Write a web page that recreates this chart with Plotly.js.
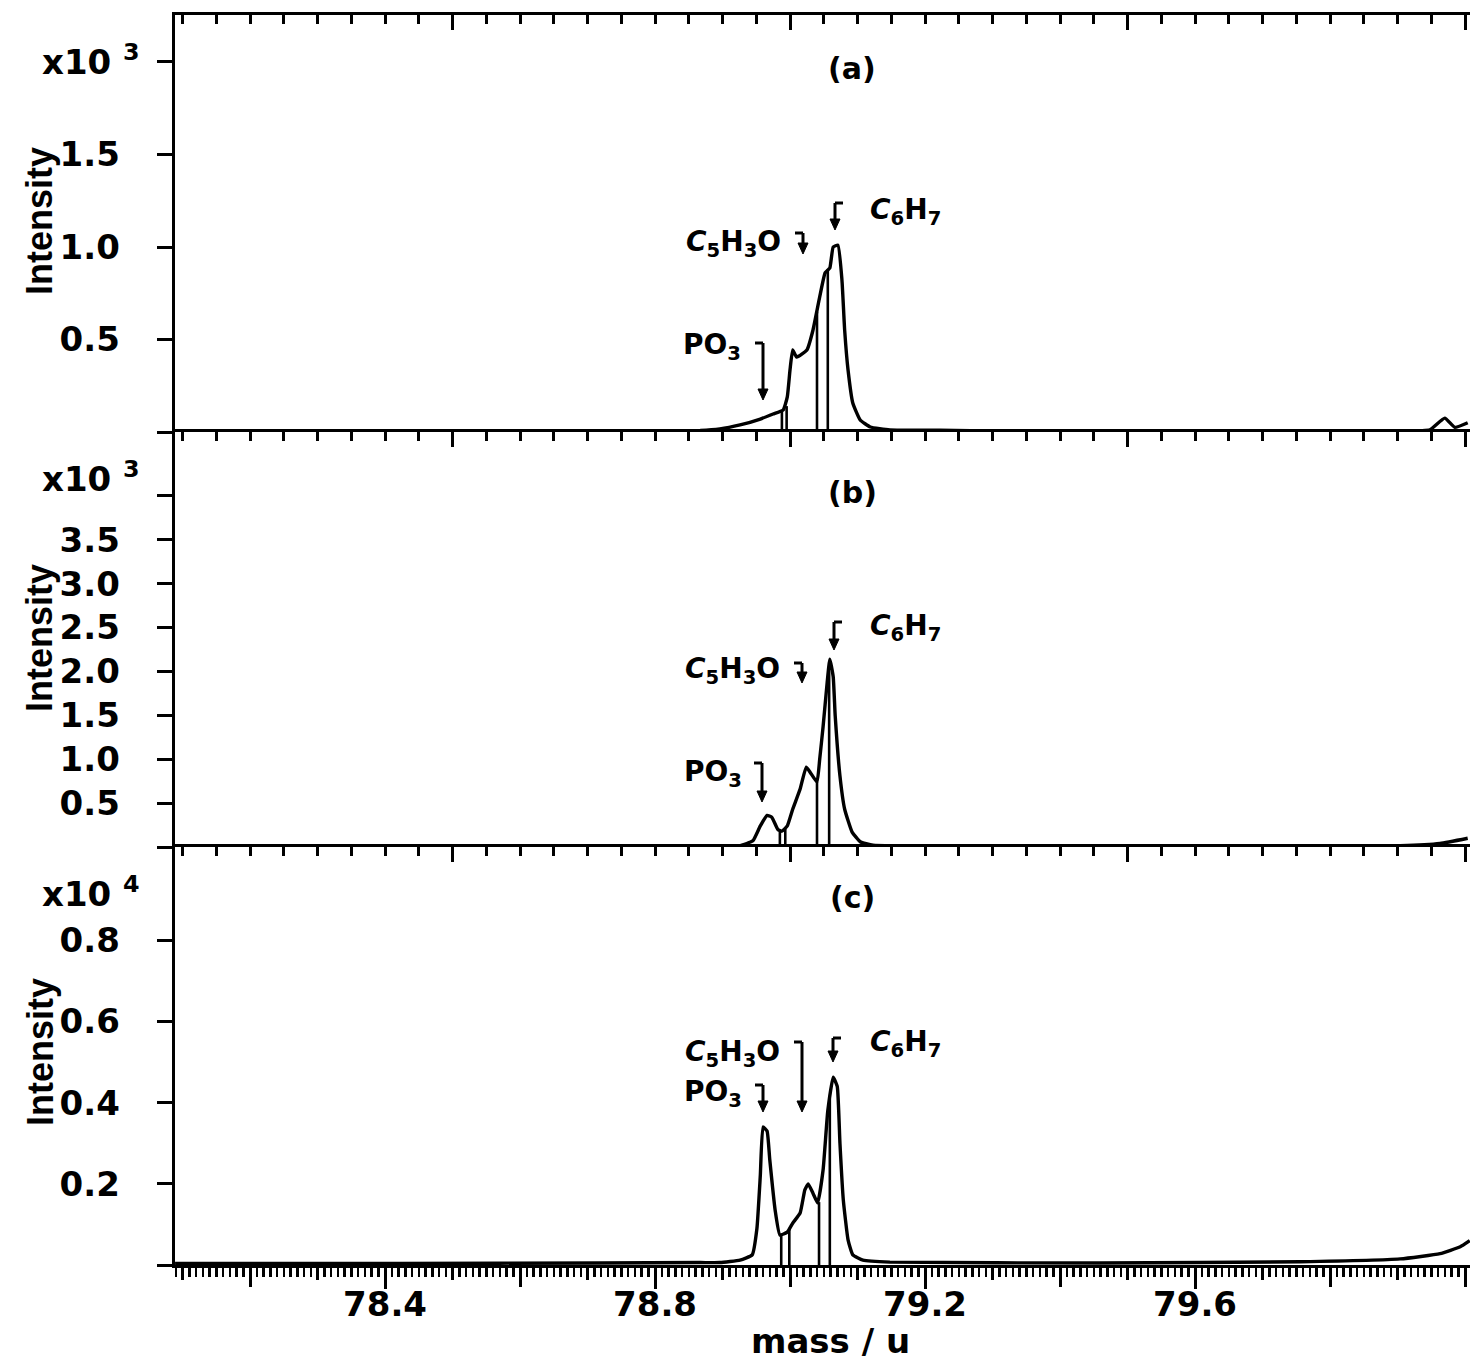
<!DOCTYPE html>
<html><head><meta charset="utf-8">
<script src="https://cdn.plot.ly/plotly-3.0.1.min.js"></script>
<style>body{margin:0;background:#fff}#chart{width:1476px;height:1361px}</style>
</head><body><div id="chart"></div>
<script>
// ---------- data ----------
// panel (a): intensity in units of 10^3
const massA = [78.089,78.274,78.496,78.719,78.867,78.896,78.926,78.956,78.975,78.990,78.996,79.000,79.004,79.010,79.025,79.034,79.044,79.052,79.059,79.064,79.071,79.077,79.081,79.086,79.093,79.104,79.119,79.148,79.222,79.311,79.607,79.904,79.948,79.970,79.985,80.004];
const intA  = [0.003,0.004,0.003,0.005,0.008,0.016,0.038,0.070,0.097,0.120,0.190,0.335,0.443,0.405,0.443,0.550,0.730,0.860,0.886,1.000,1.010,0.820,0.550,0.335,0.157,0.065,0.027,0.011,0.010,0.004,0.004,0.006,0.012,0.075,0.025,0.050];
// panel (b): intensity in units of 10^3
const massB = [78.089,78.422,78.719,78.867,78.896,78.926,78.945,78.956,78.966,78.973,78.982,78.988,78.996,79.004,79.015,79.024,79.030,79.040,79.044,79.049,79.055,79.059,79.064,79.067,79.074,79.081,79.092,79.104,79.123,79.237,79.607,79.904,79.963,80.004];
const intB  = [0.005,0.005,0.008,0.008,0.010,0.015,0.070,0.240,0.360,0.340,0.200,0.180,0.240,0.430,0.660,0.910,0.850,0.740,1.000,1.370,1.870,2.140,1.940,1.490,0.810,0.430,0.170,0.060,0.020,0.008,0.010,0.015,0.040,0.100];
// panel (c): intensity in units of 10^4
const massC = [78.089,78.422,78.719,78.867,78.896,78.926,78.944,78.951,78.956,78.960,78.966,78.970,78.978,78.985,78.996,79.004,79.015,79.022,79.027,79.034,79.041,79.049,79.056,79.064,79.070,79.074,79.079,79.086,79.093,79.108,79.148,79.459,79.756,79.904,79.963,79.993,80.007];
const intC  = [0.004,0.004,0.005,0.006,0.006,0.012,0.025,0.090,0.220,0.340,0.330,0.260,0.135,0.074,0.081,0.103,0.128,0.185,0.200,0.177,0.153,0.234,0.380,0.463,0.440,0.300,0.160,0.062,0.025,0.012,0.007,0.005,0.008,0.015,0.028,0.045,0.060];
// vertical drop lines (mass, height)
const dropMassA = [78.988,78.995,79.040,79.056];
const dropTopA  = [0.11,0.14,0.65,0.88];
const dropMassB = [78.985,78.993,79.040,79.058];
const dropTopB  = [0.19,0.21,0.74,2.05];
const dropMassC = [78.987,78.999,79.043,79.059];
const dropTopC  = [0.075,0.088,0.155,0.41];
// ticks
const xLabelVals = [78.4,78.8,79.2,79.6];
const xLabelText = ['78.4','78.8','79.2','79.6'];
const yTicksA = [0.5,1.0,1.5];
const yTextA  = ['0.5','1.0','1.5'];
const yExtraA = [0,2.0];
const yTicksB = [0.5,1.0,1.5,2.0,2.5,3.0,3.5];
const yTextB  = ['0.5','1.0','1.5','2.0','2.5','3.0','3.5'];
const yExtraB = [0,4.0];
const yTicksC = [0.2,0.4,0.6,0.8];
const yTextC  = ['0.2','0.4','0.6','0.8'];
const yExtraC = [0];
const labelsFormula = {po3:'<b>PO<sub>3</sub></b>', c5:'<b><i>C</i><sub>5</sub>H<sub>3</sub>O</b>', c6:'<b><i>C</i><sub>6</sub>H<sub>7</sub></b>'};

// ---------- geometry ----------
const W=1476,H=1361,L=175,R=6,T=15,B=96;
const PW=W-L-R, PH=H-T-B;
const px = x => (x-L)/PW;
const py = y => (H-B-y)/PH;
const XR = [78.4-(385-L)/675, 78.4+(W-R-385)/675];

function drops(m,h){const xs=[],ys=[];for(let i=0;i<m.length;i++){xs.push(m[i],m[i],null);ys.push(0,h[i],null);}return {xs,ys};}
const dA=drops(dropMassA,dropTopA), dB=drops(dropMassB,dropTopB), dC=drops(dropMassC,dropTopC);
const lineStyle={color:'#000',width:3.4,shape:'spline',smoothing:0.4};
const dropStyle={color:'#000',width:2.6};
const traces=[
 {x:massA,y:intA,xaxis:'x3',yaxis:'y',mode:'lines',line:lineStyle,hoverinfo:'skip'},
 {x:dA.xs,y:dA.ys,xaxis:'x3',yaxis:'y',mode:'lines',line:dropStyle,hoverinfo:'skip'},
 {x:massB,y:intB,xaxis:'x2',yaxis:'y2',mode:'lines',line:lineStyle,hoverinfo:'skip'},
 {x:dB.xs,y:dB.ys,xaxis:'x2',yaxis:'y2',mode:'lines',line:dropStyle,hoverinfo:'skip'},
 {x:massC,y:intC,xaxis:'x',yaxis:'y3',mode:'lines',line:lineStyle,hoverinfo:'skip'},
 {x:dC.xs,y:dC.ys,xaxis:'x',yaxis:'y3',mode:'lines',line:dropStyle,hoverinfo:'skip'},
 {x:[79.0],y:[-1],xaxis:'x4',yaxis:'y3',mode:'markers',marker:{opacity:0},hoverinfo:'skip'},
 {x:[79.0],y:[-1],xaxis:'x5',yaxis:'y3',mode:'markers',marker:{opacity:0},hoverinfo:'skip'}
];

const tfont={family:'DejaVu Sans',size:34,color:'#000',weight:'bold'};
function topAxis(anchor,extra){
  return Object.assign({range:XR,anchor:anchor,side:'top',showline:true,linewidth:3.4,linecolor:'#000',
    ticks:'inside',tickmode:'linear',tick0:78,dtick:0.5,ticklen:15,tickwidth:3,tickcolor:'#000',
    minor:{tickmode:'linear',tick0:78,dtick:0.05,ticklen:9,tickwidth:3,ticks:'inside',tickcolor:'#000',showgrid:false},
    showticklabels:false,showgrid:false,zeroline:false,fixedrange:true},extra||{});
}
function yAxis(dom,rng,vals,txt,extra){
  return {domain:dom,range:rng,anchor:'x',showline:true,linewidth:3.4,linecolor:'#000',ticks:'outside',
    tickmode:'array',tickvals:vals,ticktext:txt,ticklen:15,tickwidth:3,tickcolor:'#000',
    minor:{tickmode:'array',tickvals:extra,ticklen:15,tickwidth:3,ticks:'outside',tickcolor:'#000',showgrid:false},
    tickfont:tfont,ticklabelstandoff:30,showgrid:false,zeroline:false,fixedrange:true};
}
const domC=[0,py(847)], domB=[py(847),py(432)], domA=[py(432),1];

const annotations=[];
const shapes=[];
function txt(t,x,y,size,opts){annotations.push(Object.assign({text:t,x:px(x),y:py(y),xref:'paper',yref:'paper',showarrow:false,
  font:{family:'DejaVu Sans',size:size,color:'#000'},xanchor:'center',yanchor:'middle'},opts||{}));}
function arrow(x,top,tip,hookDir){
  const hw=5, hl=11;
  shapes.push({type:'line',xref:'paper',yref:'paper',x0:px(x),y0:py(top),x1:px(x),y1:py(tip-hl+2),line:{color:'#000',width:3}});
  shapes.push({type:'path',xref:'paper',yref:'paper',
    path:'M '+px(x-hw)+' '+py(tip-hl)+' L '+px(x+hw)+' '+py(tip-hl)+' L '+px(x)+' '+py(tip)+' Z',
    fillcolor:'#000',line:{color:'#000',width:1}});
  shapes.push({type:'line',xref:'paper',yref:'paper',x0:px(x),y0:py(top),x1:px(x+hookDir*8),y1:py(top),line:{color:'#000',width:3}});
}
// y titles
[221,638,1052].forEach(y=>txt('<b>Intensity</b>',40,y,36,{textangle:-90,font:{family:'Liberation Sans',size:36,color:'#000'}}));
// multipliers
txt('<b>x10 <sup>3</sup></b>',40,60,34,{xanchor:'left'});
txt('<b>x10 <sup>3</sup></b>',40,477,34,{xanchor:'left'});
txt('<b>x10 <sup>4</sup></b>',40,892,34,{xanchor:'left'});
// panel labels
txt('<b>(a)</b>',852,68,30); txt('<b>(b)</b>',852,493,30); txt('<b>(c)</b>',852,898,30);
// formula labels
txt(labelsFormula.po3,712,347,28); txt(labelsFormula.c5,733,243,28); txt(labelsFormula.c6,905,212,28);
txt(labelsFormula.po3,713,773,28); txt(labelsFormula.c5,732,670,28); txt(labelsFormula.c6,905,628,28);
txt(labelsFormula.c5,732,1053,28); txt(labelsFormula.po3,713,1093,28); txt(labelsFormula.c6,905,1043,28);
// arrows
arrow(763,343,400,-1); arrow(803,233,254,-1); arrow(835,203,230,1);
arrow(762,763,802,-1); arrow(802,663,683,-1); arrow(834,622,650,1);
arrow(802,1042,1112,-1); arrow(763,1085,1112,-1); arrow(833,1038,1062,1);
// x title
txt('<b>mass / u</b>',830,1341,34);

const layout={
  width:W,height:H,margin:{l:L,r:R,t:T,b:B},paper_bgcolor:'#fff',plot_bgcolor:'#fff',showlegend:false,
  xaxis:{range:XR,anchor:'y3',side:'bottom',showline:true,linewidth:3.4,linecolor:'#000',ticks:'outside',
    tickmode:'array',tickvals:xLabelVals,ticktext:xLabelText,ticklen:21,tickwidth:3,tickcolor:'#000',
    minor:{tickmode:'linear',tick0:78,dtick:0.01,ticklen:9,tickwidth:2.5,ticks:'outside',tickcolor:'#000',showgrid:false},
    tickfont:tfont,ticklabelstandoff:-14,showgrid:false,zeroline:false,fixedrange:true},
  xaxis4:{range:XR,overlaying:'x',anchor:'y3',side:'bottom',ticks:'outside',tickmode:'linear',tick0:78.2,dtick:0.2,
    ticklen:21,tickwidth:3,tickcolor:'#000',
    minor:{tickmode:'linear',tick0:78.1,dtick:0.1,ticklen:14,tickwidth:3,ticks:'outside',tickcolor:'#000',showgrid:false},
    showticklabels:false,showline:false,showgrid:false,zeroline:false,fixedrange:true},
  xaxis5:topAxis('y3',{overlaying:'x'}),
  xaxis2:topAxis('y2'),
  xaxis3:topAxis('y'),
  yaxis:yAxis(domA,[0,2.254],yTicksA,yTextA,yExtraA),
  yaxis2:yAxis(domB,[0,4.727],yTicksB,yTextB,yExtraB),
  yaxis3:yAxis(domC,[0,1.03],yTicksC,yTextC,yExtraC),
  annotations:annotations,shapes:shapes
};
Plotly.newPlot('chart',traces,layout,{staticPlot:true,displayModeBar:false});
</script></body></html>
